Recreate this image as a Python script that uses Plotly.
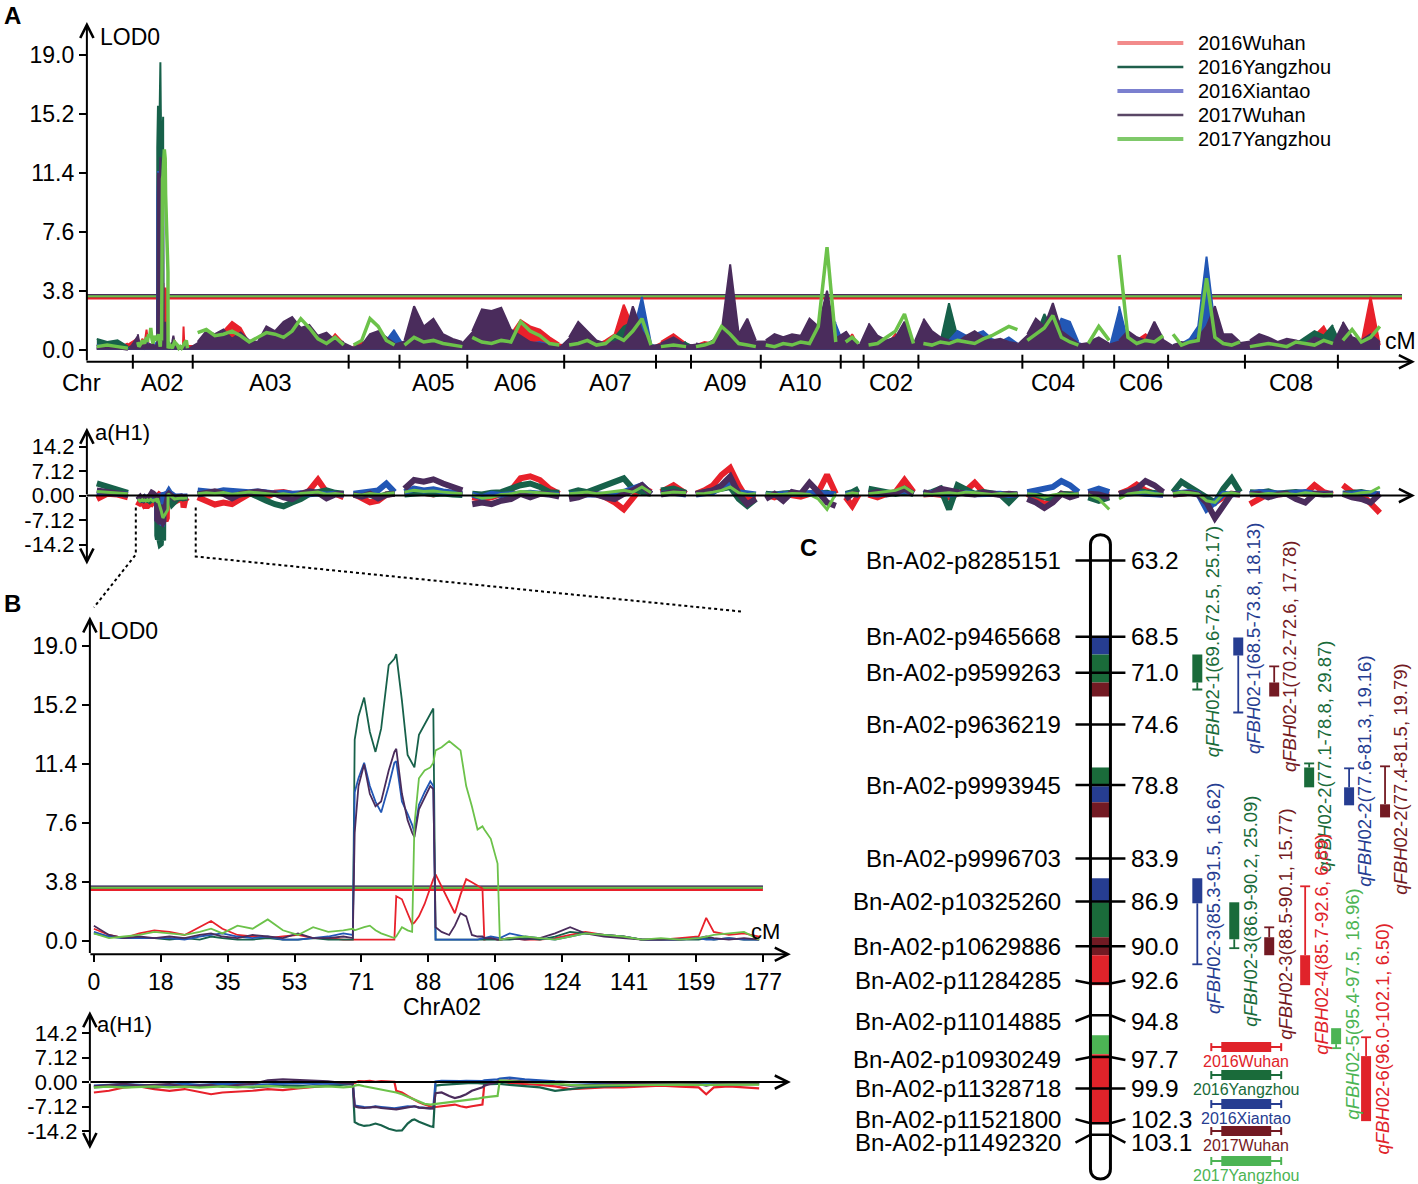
import plotly.graph_objects as go

W, H = 1418, 1184
FONT = 'Liberation Sans, Arial, sans-serif'

envs = ['2016Wuhan', '2016Yangzhou', '2016Xiantao', '2017Wuhan', '2017Yangzhou']
curve_colors = ['#e8212b', '#17614a', '#2257b5', '#4a2c5c', '#6cc24a']
legend_colors = ['#f28b8b', '#1f5f4c', '#7b80cf', '#5a4766', '#7fc96a']
map_colors = ['#e0232a', '#1a6b3a', '#263d91', '#731a23', '#4cb454']

# ---------------- panel A: genome-wide scan ----------------
chroms = ['A01', 'A02', 'A03', 'A04', 'A05', 'A06', 'A07', 'A08', 'A09', 'A10',
          'C01', 'C02', 'C03', 'C04', 'C05', 'C06', 'C07', 'C08', 'C09']
chrom_len = [110, 177, 517, 145, 205, 308, 290, 89, 212, 248,
             46, 159, 333, 181, 74, 156, 237, 294, 131]
shown_labels = ['A02', 'A03', 'A05', 'A06', 'A07', 'A09', 'A10', 'C02', 'C04', 'C06', 'C08']
thresholds = [3.37, 3.45, 3.50, 3.52, 3.45]

lod_w16 = {
    'A01': [0.3, 0.2, 0.1, 0.4],
    'A03': [0.3, 0.5, 0.8, 1.2, 1.8, 1.4, 0.4, 0.3, 0.6, 0.8, 0.4, 0.9, 0.5, 0.7, 0.6, 0.3, 1.0, 0.4],
    'A04': [0.2, 0.5, 0.3, 0.4, 0.2, 0.1],
    'A05': [0.2, 0.4, 0.3, 0.5, 0.3, 0.6, 0.4],
    'A06': [0.3, 0.5, 0.4, 0.6, 1.0, 1.9, 1.5, 1.3, 0.8, 0.4],
    'A07': [0.3, 0.4, 0.5, 0.3, 0.6, 1.0, 2.9, 1.5, 0.5, 0.2],
    'A08': [0.5, 1.0, 0.4],
    'A09': [0.3, 0.5, 0.4, 0.6, 1.2, 0.5, 0.3, 0.4],
    'A10': [0.2, 0.3, 0.2, 0.3, 0.4, 0.5, 0.8, 1.5, 0.4],
    'C01': [0.3, 1.0, 0.2],
    'C02': [0.4, 0.6, 0.3, 1.0, 0.5, 0.3],
    'C03': [0.3, 0.4, 0.6, 0.5, 0.3, 0.4, 0.6, 0.3, 0.5, 0.4, 0.3, 0.2],
    'C04': [0.4, 0.8, 0.6, 0.5, 0.7, 0.4, 0.3],
    'C05': [0.3, 0.2, 0.4],
    'C06': [0.4, 0.3, 0.6, 1.0, 0.5, 0.3],
    'C07': [0.3, 0.2, 0.3, 0.5, 1.0, 1.3, 0.6, 0.4, 0.3],
    'C08': [0.3, 0.4, 0.2, 0.5, 0.3, 0.4, 0.6, 0.9, 1.5, 0.4],
    'C09': [0.3, 0.5, 0.4, 3.4, 0.3],
}
lod_y16 = {
    'A01': [0.7, 0.5, 0.6, 0.2],
    'A03': [0.1, 0.2, 0.3, 0.2, 0.1, 0.3, 0.2, 0.1, 0.2, 0.3, 0.4, 0.2, 0.3, 0.5, 0.2, 0.1, 0.2, 0.1],
    'A04': [0.1, 0.2, 0.1, 0.2, 0.1, 0.1],
    'A05': [0.1, 0.2, 0.1, 0.3, 0.2, 0.1, 0.2],
    'A06': [0.2, 0.4, 0.3, 0.2, 0.3, 0.5, 0.4, 0.2, 0.3, 0.1],
    'A07': [0.2, 0.3, 0.2, 0.4, 0.3, 0.8, 1.5, 1.8, 0.6, 0.3],
    'A08': [0.3, 0.2, 0.5],
    'A09': [0.2, 0.4, 0.3, 0.5, 0.8, 0.4, 0.6, 0.2],
    'A10': [0.1, 0.2, 0.1, 0.2, 0.3, 0.2, 0.4, 0.6, 0.3],
    'C01': [0.2, 0.3, 0.1],
    'C02': [0.2, 0.3, 0.2, 0.4, 0.6, 0.2],
    'C03': [0.2, 0.4, 0.5, 3.0, 0.8, 0.4, 0.3, 0.5, 0.3, 0.6, 0.4, 0.3],
    'C04': [0.5, 0.9, 2.3, 1.2, 0.6, 0.4, 0.3],
    'C05': [0.2, 0.3, 0.2],
    'C06': [0.3, 0.2, 0.4, 0.3, 0.5, 0.2],
    'C07': [0.2, 0.3, 0.4, 0.6, 0.8, 0.7, 0.4, 0.6, 0.3],
    'C08': [0.5, 0.4, 0.6, 0.3, 0.5, 0.4, 0.8, 1.2, 0.9, 1.6],
    'C09': [0.2, 0.4, 0.3, 0.5, 0.2],
}
lod_x16 = {
    'A01': [0.3, 0.2, 0.1, 0.1],
    'A03': [0.3, 0.2, 0.4, 0.3, 0.5, 0.2, 0.3, 0.2, 0.4, 0.6, 0.3, 0.5, 0.8, 0.4, 0.3, 0.2, 0.3, 0.2],
    'A04': [0.1, 0.2, 0.3, 0.4, 0.6, 1.3],
    'A05': [0.3, 0.5, 0.2, 0.4, 0.3, 0.2, 0.3],
    'A06': [0.6, 1.3, 0.5, 0.4, 0.3, 0.6, 0.4, 0.5, 0.3, 0.2],
    'A07': [0.2, 0.3, 0.2, 0.3, 0.2, 0.4, 0.5, 1.0, 3.4, 0.4],
    'A08': [0.2, 0.3, 0.2],
    'A09': [0.2, 0.3, 0.2, 0.8, 3.8, 1.0, 0.7, 0.3],
    'A10': [0.2, 0.1, 0.2, 0.3, 0.2, 0.4, 0.6, 1.2, 1.8],
    'C01': [0.2, 0.4, 0.3],
    'C02': [0.3, 0.5, 0.4, 0.3, 0.8, 0.4],
    'C03': [0.3, 0.5, 0.4, 0.6, 1.2, 0.9, 1.0, 1.2, 0.7, 0.5, 0.8, 0.4],
    'C04': [0.3, 0.6, 0.8, 1.0, 2.0, 1.8, 0.5],
    'C05': [0.3, 0.4, 0.3],
    'C06': [2.8, 0.5, 0.3, 0.4, 0.3, 0.5],
    'C07': [0.3, 0.4, 0.7, 1.5, 6.0, 1.5, 0.6, 0.4, 0.3],
    'C08': [0.2, 0.3, 0.4, 0.3, 0.5, 0.3, 0.4, 0.6, 0.4, 0.3],
    'C09': [0.3, 0.2, 0.4, 0.3, 0.2],
}
lod_w17 = {
    'A01': [0.1, 0.2, 0.1, 0.0],
    'A03': [0.5, 1.2, 1.0, 1.3, 0.7, 1.1, 0.6, 0.5, 1.5, 1.2, 1.8, 2.1, 1.4, 1.6, 0.9, 1.1, 0.6, 0.5],
    'A04': [0.2, 0.3, 1.0, 1.2, 0.8, 0.4],
    'A05': [0.6, 2.8, 1.5, 2.0, 1.0, 0.7, 0.5],
    'A06': [1.2, 2.6, 2.5, 2.7, 1.3, 0.9, 0.5, 0.4, 0.3, 0.2],
    'A07': [0.8, 1.8, 1.2, 0.6, 0.4, 0.5, 0.7, 2.8, 1.2, 0.3],
    'A08': [0.4, 0.8, 0.3],
    'A09': [0.4, 0.3, 0.6, 1.2, 5.5, 1.0, 2.0, 0.6],
    'A10': [0.6, 1.0, 0.8, 1.0, 0.9, 2.0, 1.5, 3.8, 0.8],
    'C01': [1.2, 0.6, 0.3],
    'C02': [1.7, 0.9, 0.6, 0.8, 1.8, 0.5],
    'C03': [2.0, 1.2, 0.8, 0.6, 0.5, 0.9, 1.2, 0.8, 0.6, 0.7, 0.5, 0.4],
    'C04': [1.0, 2.0, 1.5, 3.0, 1.2, 0.8, 0.4],
    'C05': [0.5, 0.8, 0.4],
    'C06': [0.6, 1.2, 0.8, 0.6, 1.8, 0.7],
    'C07': [0.3, 0.5, 0.4, 0.8, 1.5, 2.8, 1.0, 1.0, 0.5],
    'C08': [0.6, 1.0, 0.8, 0.5, 0.7, 0.6, 0.4, 0.8, 0.6, 0.5],
    'C09': [1.8, 0.8, 0.6, 1.0, 0.5],
}
lod_y17 = {
    'A01': [0.2, 0.3, 0.2, 0.1],
    'A03': [1.1, 1.3, 0.9, 1.0, 1.2, 0.9, 0.5, 0.8, 1.1, 1.0, 0.8, 1.2, 2.0, 1.4, 0.7, 0.4, 0.8, 0.3],
    'A04': [0.3, 0.6, 2.0, 1.5, 0.6, 0.3],
    'A05': [0.3, 0.8, 0.5, 0.6, 0.4, 0.3, 0.2],
    'A06': [0.8, 0.5, 0.4, 0.6, 0.5, 1.8, 1.2, 0.9, 0.4, 0.3],
    'A07': [0.3, 0.4, 0.6, 0.3, 0.4, 0.9, 0.6, 1.2, 2.0, 0.3],
    'A08': [0.2, 0.3, 0.2],
    'A09': [0.2, 0.3, 0.5, 1.5, 1.0, 0.4, 0.3, 0.2],
    'A10': [0.3, 0.2, 0.4, 0.3, 0.5, 0.4, 1.5, 6.6, 0.5],
    'C01': [0.5, 0.8, 0.4],
    'C02': [0.3, 0.4, 0.8, 1.2, 2.3, 0.4],
    'C03': [0.4, 0.3, 0.5, 0.4, 0.6, 0.5, 0.4, 0.7, 0.9, 1.2, 1.5, 1.3],
    'C04': [0.6, 1.0, 1.4, 2.2, 0.8, 0.5, 0.3],
    'C05': [0.4, 1.5, 0.6],
    'C06': [6.1, 0.8, 0.4, 0.6, 0.5, 0.9],
    'C07': [1.0, 0.3, 0.5, 0.6, 4.6, 0.8, 0.4, 0.3, 0.5],
    'C08': [0.2, 0.3, 0.4, 0.3, 0.2, 0.5, 0.4, 0.3, 0.6, 0.4],
    'C09': [0.6, 1.3, 0.5, 0.8, 1.5],
}

eff_w16 = {
    'A01': [-1.0, 0.5, 0.3, -0.5],
    'A03': [-0.5, -1.5, -2.6, -2.0, -2.5, -1.0, 0.5, 0.3, -0.5, 0.8, 1.0, 0.5, -0.3, 1.5, 4.6, 1.0, 0.5, -0.5],
    'A04': [0.5, -1.0, -2.0, -1.5, 0.3, 0.5],
    'A05': [0.5, 1.0, 0.8, 0.3, 1.0, 0.5, 0.3],
    'A06': [-0.5, -1.0, -0.5, 0.5, 1.5, 5.0, 5.6, 4.5, 2.0, 0.5],
    'A07': [0.5, 0.3, 0.8, 0.5, -0.5, -2.0, -4.0, -1.0, 2.5, 1.0],
    'A08': [1.0, 3.0, 0.5],
    'A09': [0.5, 1.5, 3.0, 6.0, 8.0, 3.0, -1.0, -0.5],
    'A10': [0.3, -0.5, 0.5, 0.3, -0.3, 0.5, 1.0, 6.0, 0.5],
    'C01': [-0.5, -3.0, 0.3],
    'C02': [0.3, -0.5, 0.5, 1.0, 4.5, 1.0],
    'C03': [0.3, 0.5, 0.2, -0.5, 0.5, 1.5, 3.7, 1.0, 0.5, 0.3, 0.5, 0.2],
    'C04': [0.5, -1.0, -2.5, -1.5, 0.5, 0.3, 0.5],
    'C05': [0.3, 0.5, 0.2],
    'C06': [0.5, 1.5, 3.2, 1.5, 0.5, 0.3],
    'C07': [0.3, 0.5, 0.8, 0.5, -1.0, -2.0, -0.5, 0.5, 0.3],
    'C08': [-2.5, -1.0, 0.5, 0.3, 0.5, 0.8, 0.5, 3.0, 1.0, 0.3],
    'C09': [3.0, 1.0, 0.5, -2.0, -5.0],
}
eff_y16 = {
    'A01': [3.5, 2.5, 1.5, 0.8],
    'A03': [0.5, 1.0, 0.8, 1.2, 0.5, 0.3, 0.8, -0.5, -1.5, -2.5, -3.1, -2.0, -1.0, 0.5, 1.0, 1.5, 0.8, 0.5],
    'A04': [0.3, 0.5, 0.2, -0.5, 0.3, 0.6],
    'A05': [0.3, 0.5, 0.8, 0.4, 0.6, 0.3, 0.2],
    'A06': [0.5, 0.3, 0.8, 1.0, 2.0, 3.0, 3.5, 2.5, 1.0, 0.8],
    'A07': [0.8, 1.5, 1.0, 2.0, 3.0, 4.0, 5.0, 2.0, 1.0, 0.5],
    'A08': [1.5, 2.0, 0.8],
    'A09': [0.5, 1.0, 1.5, 2.0, 2.5, -1.0, -3.0, -1.0],
    'A10': [0.5, 0.3, 0.6, 0.8, 0.4, 0.5, 0.3, 0.8, 0.2],
    'C01': [0.5, 1.0, 2.0],
    'C02': [2.0, 1.5, 0.8, 0.5, 1.0, 0.5],
    'C03': [0.5, 1.0, 2.0, -4.0, 3.0, 1.5, 0.5, 1.0, 0.8, 0.3, -2.0, 0.5],
    'C04': [0.5, 0.3, -0.5, -1.0, 0.5, 0.3, 0.2],
    'C05': [-0.5, -1.5, -0.5],
    'C06': [0.5, 1.0, 1.5, 1.0, 0.8, 0.5],
    'C07': [1.0, 4.0, 2.5, 1.0, -1.0, -2.0, 2.0, 5.0, 1.0],
    'C08': [1.0, 0.8, 1.2, 0.5, 0.8, 1.0, 0.6, 0.5, 0.8, 0.3],
    'C09': [0.5, 0.8, 1.0, 0.5, 0.3],
}
eff_x16 = {
    'A01': [1.0, 0.8, 0.5, 0.3],
    'A03': [1.5, 1.2, 1.0, 1.5, 1.3, 0.8, 1.0, 1.2, 0.9, 0.6, 0.8, 0.5, 0.7, 0.4, 0.6, 0.3, 0.5, 0.2],
    'A04': [0.5, 0.8, 1.0, 1.5, 3.5, 1.0],
    'A05': [1.0, 2.0, 1.5, 1.8, 1.2, 0.8, 0.5],
    'A06': [0.3, -0.5, 0.5, 0.2, 0.4, 0.6, 0.8, 0.5, 0.3, 0.2],
    'A07': [0.3, 0.5, 0.3, 0.4, 0.2, 0.5, 1.0, 2.0, 3.0, 0.5],
    'A08': [0.5, 0.8, 0.3],
    'A09': [0.3, 0.5, 1.0, 2.5, 4.0, 1.0, 0.5, 0.3],
    'A10': [0.2, 0.3, 0.5, 0.4, 0.3, 0.6, 0.8, 0.5, 0.3],
    'C01': [0.3, 0.5, 0.2],
    'C02': [0.5, 0.3, 0.6, 0.8, 1.5, 0.5],
    'C03': [0.5, 0.8, 0.5, 0.3, 0.6, 0.8, 0.4, 0.5, 0.3, 0.5, 0.2, 0.4],
    'C04': [1.0, 1.5, 2.0, 2.5, 4.2, 3.0, 1.0],
    'C05': [1.0, 2.0, 1.0],
    'C06': [0.3, 0.5, 0.8, 0.5, 0.3, 0.2],
    'C07': [0.5, 0.8, 1.0, 0.5, -4.0, -2.0, 0.5, 0.3, 0.5],
    'C08': [0.5, 1.0, 0.8, 0.6, 0.5, 0.8, 1.0, 0.5, 0.3, 0.5],
    'C09': [0.5, 0.3, 0.8, 0.5, 0.3],
}
eff_w17 = {
    'A01': [1.5, 1.0, 0.5, 0.2],
    'A03': [0.3, 0.8, 1.2, 0.5, -0.8, 0.5, 1.0, 1.2, 0.8, 0.5, -0.5, -1.0, 0.5, 1.2, 0.8, -0.8, 0.3, 0.5],
    'A04': [0.2, -0.3, 0.5, -0.8, 0.2, 0.5],
    'A05': [2.0, 4.5, 4.0, 4.7, 3.5, 2.5, 1.5],
    'A06': [-2.5, -2.0, -2.5, -1.5, -1.0, 0.5, -0.5, 0.5, 0.3, -0.3],
    'A07': [-1.0, -0.5, 0.5, 0.3, -0.5, -1.0, 0.5, 1.5, 3.0, 0.5],
    'A08': [0.3, 1.0, 0.5],
    'A09': [0.5, 0.8, 1.5, 3.0, 5.5, 0.5, -2.5, -1.0],
    'A10': [-1.0, 0.5, -1.5, 1.0, 0.5, 3.7, 1.0, -2.0, -3.0],
    'C01': [-1.0, 0.5, 0.3],
    'C02': [0.5, 1.0, 0.3, 0.8, 2.0, 0.5],
    'C03': [1.0, 0.5, 2.0, 1.5, 0.8, 0.5, 0.3, 0.8, 0.5, 0.2, 0.5, 0.3],
    'C04': [-1.0, -2.0, -3.6, -2.0, 0.5, -0.5, 0.3],
    'C05': [0.5, 0.3, -0.5],
    'C06': [0.5, 1.0, 2.0, 4.2, 3.0, 1.0],
    'C07': [0.3, 0.5, 0.8, 0.3, -2.0, -6.5, -3.0, 0.5, 0.3],
    'C08': [0.3, 0.5, -0.5, 0.3, 0.5, -1.0, -2.0, 0.5, 0.3, 0.5],
    'C09': [0.5, -0.5, -1.0, -2.0, 0.5],
}
eff_y17 = {
    'A01': [1.2, 1.0, 0.8, 0.5],
    'A03': [0.5, 0.8, 0.6, 0.9, 0.4, 0.7, 1.0, 0.8, 0.6, 0.3, 0.5, 0.2, 0.6, 0.8, 1.0, 0.4, 0.6, 0.3],
    'A04': [0.4, 0.2, 0.6, 0.3, 0.5, 0.8],
    'A05': [1.0, 1.5, 1.2, 1.3, 1.0, 0.8, 0.5],
    'A06': [0.2, -0.8, -0.5, 0.3, 0.5, 1.2, 1.0, 0.8, 0.5, 0.3],
    'A07': [0.5, 0.8, 1.0, 0.5, 0.8, 1.2, 1.5, 1.0, 2.5, 0.8],
    'A08': [0.5, 1.0, 0.8],
    'A09': [0.5, 0.6, 1.0, 1.5, 2.5, 0.8, 0.3, 0.5],
    'A10': [0.5, 0.3, 0.4, 0.6, 0.5, 0.3, -1.0, -4.0, 0.5],
    'C01': [0.3, 0.8, 0.5],
    'C02': [0.5, 0.8, 1.0, 1.5, 2.5, 0.8],
    'C03': [0.5, 0.3, 0.6, 0.8, 0.5, 1.0, 0.8, 0.5, 0.3, 0.6, 0.4, 0.5],
    'C04': [0.5, 0.3, -0.5, 0.2, 0.5, 0.3, 0.5],
    'C05': [0.3, -1.0, -4.0],
    'C06': [-1.0, 0.5, 0.8, 1.0, 0.6, 0.3],
    'C07': [0.5, 1.0, 0.8, 0.5, -1.5, -2.0, 0.5, 0.8, 0.3],
    'C08': [0.5, 0.3, 0.6, 0.4, 0.5, 0.3, 0.8, 0.5, 0.3, 0.4],
    'C09': [0.5, 0.3, 0.8, 1.0, 2.5],
}

# ---------------- panel B: chromosome A02 ----------------
a02_pos = [0, 4, 8, 12, 16, 20, 24, 28,
           31, 34, 38, 42, 46, 50, 54, 58,
           62, 66, 68.5, 69, 70, 71.5, 73, 74.5,
           76, 78, 79.5, 80, 81.5, 83, 84.2, 84.8,
           86, 87.5, 89, 89.8, 90.4, 92, 94, 95.5,
           97, 98.5, 100, 101.5, 102.8, 103.3, 105, 106.8,
           107.4, 110, 114, 118, 122, 126, 130, 135,
           140, 145, 150, 155, 160, 162, 164, 168,
           172, 176]
a02_lod_w16 = [0.8, 0.4, 0.2, 0.5, 0.7, 0.6, 0.4, 0.9,
               1.3, 0.8, 0.4, 0.3, 0.2, 0.3, 0.4, 0.2,
               0.2, 0.1, 0.1, 0.1, 0.1, 0.1, 0.1, 0.1,
               0.1, 0.1, 0.1, 2.9, 2.7, 1.8, 1.1, 1.2,
               1.6, 2.4, 3.5, 4.0, 4.3, 3.5, 2.6, 1.8,
               3.0, 4.0, 3.8, 3.6, 3.4, 0.1, 0.2, 0.1,
               0.1, 0.2, 0.1, 0.1, 0.2, 0.4, 0.6, 0.4,
               0.3, 0.1, 0.1, 0.2, 0.3, 1.5, 0.6, 0.4,
               0.5, 0.3]
a02_lod_y16 = [0.5, 0.3, 0.2, 0.2, 0.2, 0.1, 0.2, 0.1,
               0.3, 0.2, 0.1, 0.1, 0.2, 0.1, 0.1, 0.2,
               0.1, 0.1, 0.1, 13.0, 14.5, 15.7, 13.5, 12.2,
               13.7, 17.8, 18.2, 18.5, 15.5, 12.0, 11.4, 11.2,
               13.3, 14.0, 14.6, 15.0, 0.1, 0.1, 0.1, 0.1,
               0.1, 0.1, 0.1, 0.1, 0.1, 0.1, 0.1, 0.1,
               0.1, 0.1, 0.2, 0.1, 0.3, 0.6, 0.5, 0.4,
               0.3, 0.1, 0.1, 0.1, 0.1, 0.2, 0.1, 0.2,
               0.1, 0.1]
a02_lod_x16 = [0.6, 0.3, 0.2, 0.2, 0.2, 0.2, 0.1, 0.3,
               0.4, 0.5, 0.3, 0.2, 0.3, 0.1, 0.1, 0.2,
               0.3, 0.5, 0.4, 9.6, 10.5, 11.5, 10.0, 9.0,
               8.3, 10.0, 11.5, 11.6, 9.0, 8.2, 7.5, 7.0,
               8.8, 9.6, 10.3, 10.0, 0.1, 0.1, 0.1, 0.1,
               0.1, 0.1, 0.1, 0.1, 0.2, 0.2, 0.3, 0.2,
               0.2, 0.5, 0.3, 0.2, 0.1, 0.3, 0.5, 0.4,
               0.3, 0.1, 0.1, 0.1, 0.2, 0.1, 0.1, 0.2,
               0.1, 0.1]
a02_lod_w17 = [1.0, 0.4, 0.2, 0.3, 0.2, 0.3, 0.2, 0.4,
               0.5, 0.3, 0.2, 0.4, 0.3, 0.2, 0.5, 0.2,
               0.2, 0.3, 0.2, 7.0, 10.0, 11.4, 9.5, 8.7,
               9.0, 11.0, 12.2, 12.4, 9.5, 7.8, 7.0, 6.7,
               8.5, 9.2, 10.0, 9.8, 0.9, 0.6, 0.4, 1.0,
               1.8, 1.6, 0.4, 0.3, 0.3, 0.2, 0.2, 0.1,
               0.1, 0.2, 0.1, 0.2, 0.5, 0.9, 0.5, 0.3,
               0.2, 0.1, 0.1, 0.1, 0.2, 0.3, 0.2, 0.1,
               0.2, 0.1]
a02_lod_y17 = [0.5, 0.2, 0.3, 0.4, 0.6, 0.5, 0.4, 0.6,
               0.8, 0.5, 1.0, 0.8, 1.4, 0.7, 0.4, 0.9,
               0.6, 0.7, 0.8, 0.7, 0.8, 0.9, 1.0, 0.7,
               0.5, 0.3, 0.2, 0.3, 0.9, 0.7, 0.6, 7.5,
               10.5, 11.0, 11.2, 11.5, 12.3, 12.5, 12.9, 12.6,
               12.3, 10.0, 8.7, 7.2, 7.4, 7.2, 6.6, 5.0,
               0.1, 0.2, 0.3, 0.2, 0.1, 0.3, 0.5, 0.4,
               0.3, 0.1, 0.2, 0.1, 0.2, 0.3, 0.4, 0.5,
               0.6, 0.1]

a02_eff_w16 = [-3.0, -2.5, -1.5, -1.2, -2.0, -2.5, -2.0, -2.8,
               -3.5, -3.0, -2.8, -2.5, -2.0, -2.3, -1.8, -1.5,
               -1.0, -0.5, -0.3, -0.2, 0.3, 0.2, 0.4, 0.1,
               0.3, 0.2, 0.1, -2.5, -3.0, -4.0, -4.8, -5.2,
               -5.8, -6.5, -7.0, -7.3, -7.2, -7.0, -6.8, -6.5,
               -7.0, -7.3, -7.0, -6.8, -6.5, -0.5, -0.2, 0.2,
               0.3, -0.3, -0.5, -0.8, -1.2, -2.0, -1.8, -1.5,
               -1.5, -1.2, -1.0, -1.3, -1.5, -3.5, -1.5, -1.2,
               -1.5, -1.8]
a02_eff_y16 = [-1.5, -1.2, -1.0, -1.3, -1.5, -1.2, -1.0, -1.4,
               -1.2, -1.0, -1.3, -1.5, -1.2, -1.0, -1.1, -1.3,
               -1.0, -0.8, -0.6, -11.6, -12.2, -12.7, -12.5, -12.0,
               -12.5, -13.5, -14.0, -14.1, -14.0, -12.0, -11.0, -10.8,
               -11.5, -12.2, -12.8, -13.0, -1.0, -0.8, -0.6, -0.5,
               -0.4, -0.3, -0.2, -0.3, -0.4, -0.5, -0.6, -0.5,
               -0.5, -0.8, -1.2, -1.5, -2.5, -2.0, -1.5, -1.2,
               -1.0, -0.8, -0.6, -0.5, -0.6, -0.8, -0.7, -0.6,
               -0.5, -0.6]
a02_eff_x16 = [-1.0, -0.8, -0.6, -0.8, -1.0, -0.7, -0.5, -0.8,
               -0.6, -0.4, -0.5, -0.7, -0.6, -0.4, -0.3, -0.5,
               -0.4, -0.2, -0.3, -6.8, -7.0, -7.2, -7.3, -7.0,
               -7.2, -7.5, -7.6, -7.5, -7.2, -7.0, -7.1, -7.0,
               -7.3, -7.5, -7.6, -7.4, 0.2, 0.4, 0.3, 0.2,
               0.3, 0.4, 0.3, 0.2, 0.3, 0.5, 0.6, 0.8,
               1.0, 1.3, 0.8, 0.4, 0.2, 0.0, -0.2, -0.3,
               -0.2, -0.1, 0.0, -0.2, -0.3, -0.5, -0.4, -0.3,
               -0.2, -0.3]
a02_eff_w17 = [-1.2, -0.8, -0.5, -1.0, -0.8, -0.6, -1.2, -1.0,
               -0.8, -1.4, -0.8, -0.5, 0.5, 0.8, 0.6, 0.4,
               0.2, -0.3, -0.5, -7.0, -7.3, -7.5, -7.4, -7.2,
               -7.5, -7.8, -8.0, -7.9, -7.6, -7.3, -7.2, -7.0,
               -7.4, -7.6, -7.8, -7.7, -3.2, -3.0, -4.0, -4.6,
               -4.2, -3.5, -2.5, -2.0, -1.5, -1.0, -0.5, 0.0,
               0.3, 0.5, 0.2, -0.3, -0.5, -1.0, -0.8, -0.6,
               -0.5, -0.3, -0.2, -0.3, -0.5, -1.0, -0.6, -0.5,
               -0.4, -0.3]
a02_eff_y17 = [-1.5, -1.3, -1.6, -1.4, -1.2, -1.5, -1.3, -1.6,
               -1.4, -1.2, -1.5, -1.3, -1.1, -1.4, -1.6, -1.3,
               -1.2, -1.5, -1.3, -1.0, -0.8, -1.2, -1.5, -2.0,
               -2.2, -2.5, -2.8, -3.0, -3.5, -4.2, -4.8, -5.2,
               -5.8, -6.3, -6.5, -6.4, -6.3, -6.0, -5.8, -5.5,
               -5.5, -5.2, -5.0, -4.8, -4.5, -4.4, -4.2, -4.0,
               0.5, 0.3, 0.1, -0.2, -0.5, -0.8, -1.0, -0.9,
               -0.8, -0.7, -0.6, -0.7, -0.8, -0.9, -0.8, -0.7,
               -0.6, -0.7]

b_ticks = [0, 17.7, 35.4, 53.1, 70.8, 88.5, 106.2, 123.9, 141.6, 159.3, 177]
b_tick_text = ['0', '18', '35', '53', '71', '88', '106', '124', '141', '159', '177']
lod_ticks = [0, 3.8, 7.6, 11.4, 15.2, 19.0]
lod_tick_text = ['0.0', '3.8', '7.6', '11.4', '15.2', '19.0']
eff_ticks = [-14.2, -7.12, 0, 7.12, 14.2]
eff_tick_text = ['-14.2', '-7.12', '0.00', '7.12', '14.2']

# ---------------- panel C: linkage map of the QTL region ----------------
markers = ['Bn-A02-p8285151', 'Bn-A02-p9465668', 'Bn-A02-p9599263', 'Bn-A02-p9636219',
           'Bn-A02-p9993945', 'Bn-A02-p9996703', 'Bn-A02-p10325260', 'Bn-A02-p10629886',
           'Bn-A02-p11284285', 'Bn-A02-p11014885', 'Bn-A02-p10930249', 'Bn-A02-p11328718',
           'Bn-A02-p11521800', 'Bn-A02-p11492320']
marker_cm = [63.2, 68.5, 71.0, 74.6, 78.8, 83.9, 86.9, 90.0, 92.6, 94.8, 97.7, 99.9, 102.3, 103.1]

seg_env = [2, 1, 3, 1, 2, 3, 2, 1, 3, 0, 4, 0]
seg_start = [68.55, 69.73, 71.67, 77.58, 78.89, 80.00, 85.28, 86.95, 89.38, 90.63, 96.19, 97.51]
seg_end = [69.73, 71.67, 72.64, 78.89, 80.00, 81.05, 86.95, 89.38, 90.63, 92.71, 97.51, 102.23]

qtl_name = ['qFBH02-1', 'qFBH02-1', 'qFBH02-1', 'qFBH02-2', 'qFBH02-2', 'qFBH02-2',
            'qFBH02-3', 'qFBH02-3', 'qFBH02-3', 'qFBH02-4', 'qFBH02-5', 'qFBH02-6']
qtl_env = [1, 2, 3, 1, 2, 3, 2, 1, 3, 0, 4, 0]
qtl_interval = ['69.6-72.5', '68.5-73.8', '70.2-72.6', '77.1-78.8', '77.6-81.3', '77.4-81.5',
                '85.3-91.5', '86.9-90.2', '88.5-90.1', '85.7-92.6', '95.4-97.5', '96.0-102.1']
qtl_pve = ['25.17', '18.13', '17.78', '29.87', '19.16', '19.79',
           '16.62', '25.09', '15.77', '6.89', '18.96', '6.50']
qtl_box_top = [69.73, 68.55, 71.67, 77.58, 78.96, 80.14, 85.28, 86.95, 89.38, 90.63, 95.70, 97.64]
qtl_box_bot = [71.67, 69.80, 72.64, 78.96, 80.21, 81.05, 87.02, 89.52, 90.63, 92.71, 96.81, 102.16]
qtl_whisker = [72.16, 73.76, 70.56, 77.30, 77.64, 77.50, 91.26, 90.14, 88.69, 85.84, 97.09, 96.33]


def xp(px):
    return px / W


def yp(py):
    return 1 - py / H


# chromosome offsets along the genome axis (one small gap between chromosomes)
gap = 35
offsets = []
run = gap / 2
for L in chrom_len:
    offsets.append(run)
    run += L + gap
boundaries = [o - gap / 2 for o in offsets[1:]]


def genome_series(vals_by_chrom, a02_vals):
    xs, ys = [], []
    for c, off, L in zip(chroms, offsets, chrom_len):
        if c == 'A02':
            pos, vals = a02_pos, a02_vals
        else:
            vals = vals_by_chrom[c]
            pos = [L * k / (len(vals) - 1) for k in range(len(vals))]
        xs += [off + p for p in pos] + [None]
        ys += list(vals) + [None]
    return xs, ys


lod_a = [lod_w16, lod_y16, lod_x16, lod_w17, lod_y17]
eff_a = [eff_w16, eff_y16, eff_x16, eff_w17, eff_y17]
lod_b = [a02_lod_w16, a02_lod_y16, a02_lod_x16, a02_lod_w17, a02_lod_y17]
eff_b = [a02_eff_w16, a02_eff_y16, a02_eff_x16, a02_eff_w17, a02_eff_y17]

XA_RANGE = [-17.7, 4684]
XB_RANGE = [-1.06, 184.4]

fig = go.Figure()

# threshold lines
for i in range(5):
    w = 4 if i == 0 else 2
    fig.add_trace(go.Scatter(x=[XA_RANGE[0], 4638], y=[thresholds[i]] * 2, mode='lines',
                             line=dict(color=curve_colors[i], width=w), xaxis='x', yaxis='y'))
    fig.add_trace(go.Scatter(x=[XB_RANGE[0], 177], y=[thresholds[i]] * 2, mode='lines',
                             line=dict(color=curve_colors[i], width=w), xaxis='x3', yaxis='y3'))

# curves: the genome-wide scan is dense, so the first four environments read as filled profiles
for i in range(5):
    gx, gy = genome_series(lod_a[i], lod_b[i])
    if i < 4:
        fig.add_trace(go.Scatter(x=gx, y=gy, mode='lines', fill='tozeroy', fillcolor=curve_colors[i],
                                 line=dict(color=curve_colors[i], width=2), xaxis='x', yaxis='y'))
    else:
        fig.add_trace(go.Scatter(x=gx, y=gy, mode='lines', line=dict(color=curve_colors[i], width=3.5),
                                 xaxis='x', yaxis='y'))
    ex, ey = genome_series(eff_a[i], eff_b[i])
    fig.add_trace(go.Scatter(x=ex, y=ey, mode='lines',
                             line=dict(color=curve_colors[i], width=6 if i < 4 else 3),
                             xaxis='x2', yaxis='y2'))
    fig.add_trace(go.Scatter(x=a02_pos, y=lod_b[i], mode='lines', line=dict(color=curve_colors[i], width=1.8),
                             xaxis='x3', yaxis='y3'))
    fig.add_trace(go.Scatter(x=a02_pos, y=eff_b[i], mode='lines', line=dict(color=curve_colors[i], width=2.2),
                             xaxis='x4', yaxis='y4'))

# marker lines of the linkage map
PX_PER_CM = 14.4
label_shift_px = [0, 0, 0, 0, 0, 0, 0, 0, -3, 6, 3, 0, -4, 8]
label_cm = [c + s / PX_PER_CM for c, s in zip(marker_cm, label_shift_px)]
mx, my = [], []
for c, lc in zip(marker_cm, label_cm):
    mx += [1075, 1090, 1110, 1125, None]
    my += [lc, c, c, lc, None]
fig.add_trace(go.Scatter(x=mx, y=my, mode='lines', line=dict(color='black', width=2.5),
                         xaxis='x5', yaxis='y5'))

for tr in fig.data:
    tr.showlegend = False
    tr.hoverinfo = 'skip'

shapes = []
annotations = []


def arrow(hx, hy, tx, ty):
    annotations.append(dict(x=xp(hx), y=yp(hy), xref='paper', yref='paper', ax=tx - hx, ay=ty - hy,
                            axref='pixel', ayref='pixel', text='', showarrow=True, arrowhead=5,
                            arrowsize=1.3, arrowwidth=2, arrowcolor='black'))


def text(px, py, s, size=22, xanchor='left', color='black', bold=False, ref=('paper', 'paper'), angle=0,
         yanchor='middle'):
    annotations.append(dict(x=px, y=py, xref=ref[0], yref=ref[1], text='<b>%s</b>' % s if bold else s,
                            showarrow=False, xanchor=xanchor, yanchor=yanchor, textangle=angle,
                            font=dict(family=FONT, size=size, color=color)))


# axes with arrows
arrow(85, 22, 85, 362)
arrow(1415, 362, 85, 362)
arrow(85, 428, 85, 496)
arrow(85, 565, 85, 496)
arrow(1415, 496, 85, 496)
arrow(88, 617, 88, 955)
arrow(790, 955, 88, 955)
arrow(88, 1012, 88, 1083)
arrow(88, 1150, 88, 1083)
arrow(790, 1083, 88, 1083)

# chromosome boundary ticks on the genome axis
for b in boundaries:
    shapes.append(dict(type='line', xref='x', yref='paper', x0=b, x1=b, y0=yp(355), y1=yp(369),
                       line=dict(color='black', width=2)))
for c, off, L in zip(chroms, offsets, chrom_len):
    if c in shown_labels:
        text(off + L / 2, yp(383), c, size=24, xanchor='center', ref=('x', 'paper'))

text(xp(80), yp(383), 'Chr', size=24, xanchor='center')
text(xp(1383), yp(341), 'cM', size=23)
text(xp(748), yp(932), 'cM', size=22)
text(xp(96), yp(37), 'LOD0', size=23)
text(xp(91), yp(433), 'a(H1)', size=22)
text(xp(94), yp(632), 'LOD0', size=23)
text(xp(93), yp(1025), 'a(H1)', size=22)
text(xp(441), yp(1008), 'ChrA02', size=23, xanchor='center')
text(xp(0), yp(16), 'A', size=24, bold=True)
text(xp(0), yp(604), 'B', size=24, bold=True)
text(xp(797), yp(548), 'C', size=24, bold=True)

# legend of panel A
for i, env in enumerate(envs):
    ly = 43 + 24 * i
    shapes.append(dict(type='line', xref='paper', yref='paper', x0=xp(1117), x1=xp(1183), y0=yp(ly), y1=yp(ly),
                       line=dict(color=legend_colors[i], width=4 if i in (0, 2, 4) else 2.5)))
    text(xp(1196), yp(ly), env, size=20)

# dashed zoom guides from A to B
shapes.append(dict(type='path', xref='paper', yref='paper', line=dict(color='black', width=2, dash='dot'),
                   path='M %f %f L %f %f L %f %f' % (xp(134), yp(508), xp(134), yp(555), xp(92), yp(608))))
shapes.append(dict(type='path', xref='paper', yref='paper', line=dict(color='black', width=2, dash='dot'),
                   path='M %f %f L %f %f L %f %f' % (xp(194), yp(508), xp(194), yp(557), xp(740), yp(612))))

# linkage map: coloured QTL segments on the chromosome
for e, s0, s1 in zip(seg_env, seg_start, seg_end):
    shapes.append(dict(type='rect', xref='x5', yref='y5', x0=1091, x1=1109, y0=s0, y1=s1,
                       fillcolor=map_colors[e], line=dict(width=0), layer='below'))

# chromosome outline with rounded ends
top_cm, bot_cm = 62.09, 105.49
ctrl = 13.3 / PX_PER_CM
shapes.append(dict(type='path', xref='x5', yref='y5', line=dict(color='black', width=3),
                   path='M 1090 %f C 1090 %f 1110 %f 1110 %f L 1110 %f C 1110 %f 1090 %f 1090 %f Z' % (
                       top_cm, top_cm - ctrl, top_cm - ctrl, top_cm, bot_cm, bot_cm + ctrl, bot_cm + ctrl, bot_cm)))

for name, c, lc in zip(markers, marker_cm, label_cm):
    text(1062, lc, name, size=24, xanchor='right', ref=('x5', 'y5'))
    text(1129, lc, '%.1f' % c, size=24.5, ref=('x5', 'y5'))

# QTL boxes, whiskers and labels
qtl_col_px = [1197, 1238, 1274, 1309, 1349, 1385, 1197, 1234, 1269, 1305, 1336, 1366]
label_bottom_px = [760, 757, 775, 875, 890, 898, 1017, 1030, 1043, 1058, 1123, 1158]
for k in range(len(qtl_name)):
    col = map_colors[qtl_env[k]]
    cx = qtl_col_px[k]
    edge = qtl_box_bot[k] if qtl_whisker[k] > qtl_box_bot[k] else qtl_box_top[k]
    shapes.append(dict(type='line', xref='x5', yref='y5', x0=cx, x1=cx, y0=edge, y1=qtl_whisker[k],
                       line=dict(color=col, width=1.8)))
    shapes.append(dict(type='line', xref='x5', yref='y5', x0=cx - 5, x1=cx + 5, y0=qtl_whisker[k],
                       y1=qtl_whisker[k], line=dict(color=col, width=1.8)))
    shapes.append(dict(type='rect', xref='x5', yref='y5', x0=cx - 5, x1=cx + 5, y0=qtl_box_top[k],
                       y1=qtl_box_bot[k], fillcolor=col, line=dict(width=0)))
    label = '<i>%s</i>%s(%s, %s)' % (qtl_name[k][:4], qtl_name[k][4:], qtl_interval[k], qtl_pve[k])
    text(cx + 16, yp(label_bottom_px[k]), label, size=18.5, xanchor='center', yanchor='bottom',
         color=col, ref=('x5', 'paper'), angle=-90)

# legend of panel C
leg_bar_py = [1048, 1076, 1105, 1132, 1162]
for i, env in enumerate(envs):
    col = map_colors[i]
    by = yp(leg_bar_py[i])
    shapes.append(dict(type='line', xref='x5', yref='paper', x0=1211, x1=1281, y0=by, y1=by,
                       line=dict(color=col, width=2)))
    for ex in (1211, 1281):
        shapes.append(dict(type='line', xref='x5', yref='paper', x0=ex, x1=ex, y0=by - 4 / H, y1=by + 4 / H,
                           line=dict(color=col, width=2)))
    shapes.append(dict(type='rect', xref='x5', yref='paper', x0=1221, x1=1271, y0=by - 5 / H, y1=by + 5 / H,
                       fillcolor=col, line=dict(width=0)))
    text(1246, yp(leg_bar_py[i] + 14), env, size=16, xanchor='center', color=col, ref=('x5', 'paper'))

tick_style = dict(ticks='outside', ticklen=7, tickwidth=2, tickcolor='black', showline=False, showgrid=False,
                  zeroline=False, tickfont=dict(family=FONT, size=23, color='black'))
small_tick_style = dict(tick_style, tickfont=dict(family=FONT, size=22, color='black'))
hidden = dict(visible=False, showgrid=False, zeroline=False)

fig.update_layout(
    width=W, height=H, margin=dict(l=0, r=0, t=0, b=0),
    paper_bgcolor='white', plot_bgcolor='rgba(0,0,0,0)', showlegend=False,
    xaxis=dict(domain=[xp(85), xp(1415)], range=XA_RANGE, anchor='y', **hidden),
    yaxis=dict(domain=[yp(362), yp(22)], range=[-0.77, 21.1], anchor='x', tickvals=lod_ticks,
               ticktext=lod_tick_text, **tick_style),
    xaxis2=dict(domain=[xp(85), xp(1415)], range=XA_RANGE, anchor='y2', **hidden),
    yaxis2=dict(domain=[yp(565), yp(428)], range=[-20.0, 19.7], anchor='x2', tickvals=eff_ticks,
                ticktext=eff_tick_text, **small_tick_style),
    xaxis3=dict(domain=[xp(88), xp(790)], range=XB_RANGE, anchor='y3', tickvals=b_ticks,
                ticktext=b_tick_text, **tick_style),
    yaxis3=dict(domain=[yp(955), yp(617)], range=[-0.84, 20.93], anchor='x3', tickvals=lod_ticks,
                ticktext=lod_tick_text, **tick_style),
    xaxis4=dict(domain=[xp(88), xp(790)], range=XB_RANGE, anchor='y4', **hidden),
    yaxis4=dict(domain=[yp(1150), yp(1012)], range=[-19.4, 20.6], anchor='x4', tickvals=eff_ticks,
                ticktext=eff_tick_text, **small_tick_style),
    xaxis5=dict(domain=[xp(800), 1], range=[800, 1418], anchor='y5', **hidden),
    yaxis5=dict(domain=[0, yp(520)], range=[106.46, 60.35], anchor='x5', **hidden),
    shapes=shapes, annotations=annotations,
)

fig.write_html("out.html", config={'displayModeBar': False},
               post_script="document.body.style.margin='0px';document.body.style.overflow='hidden';")
